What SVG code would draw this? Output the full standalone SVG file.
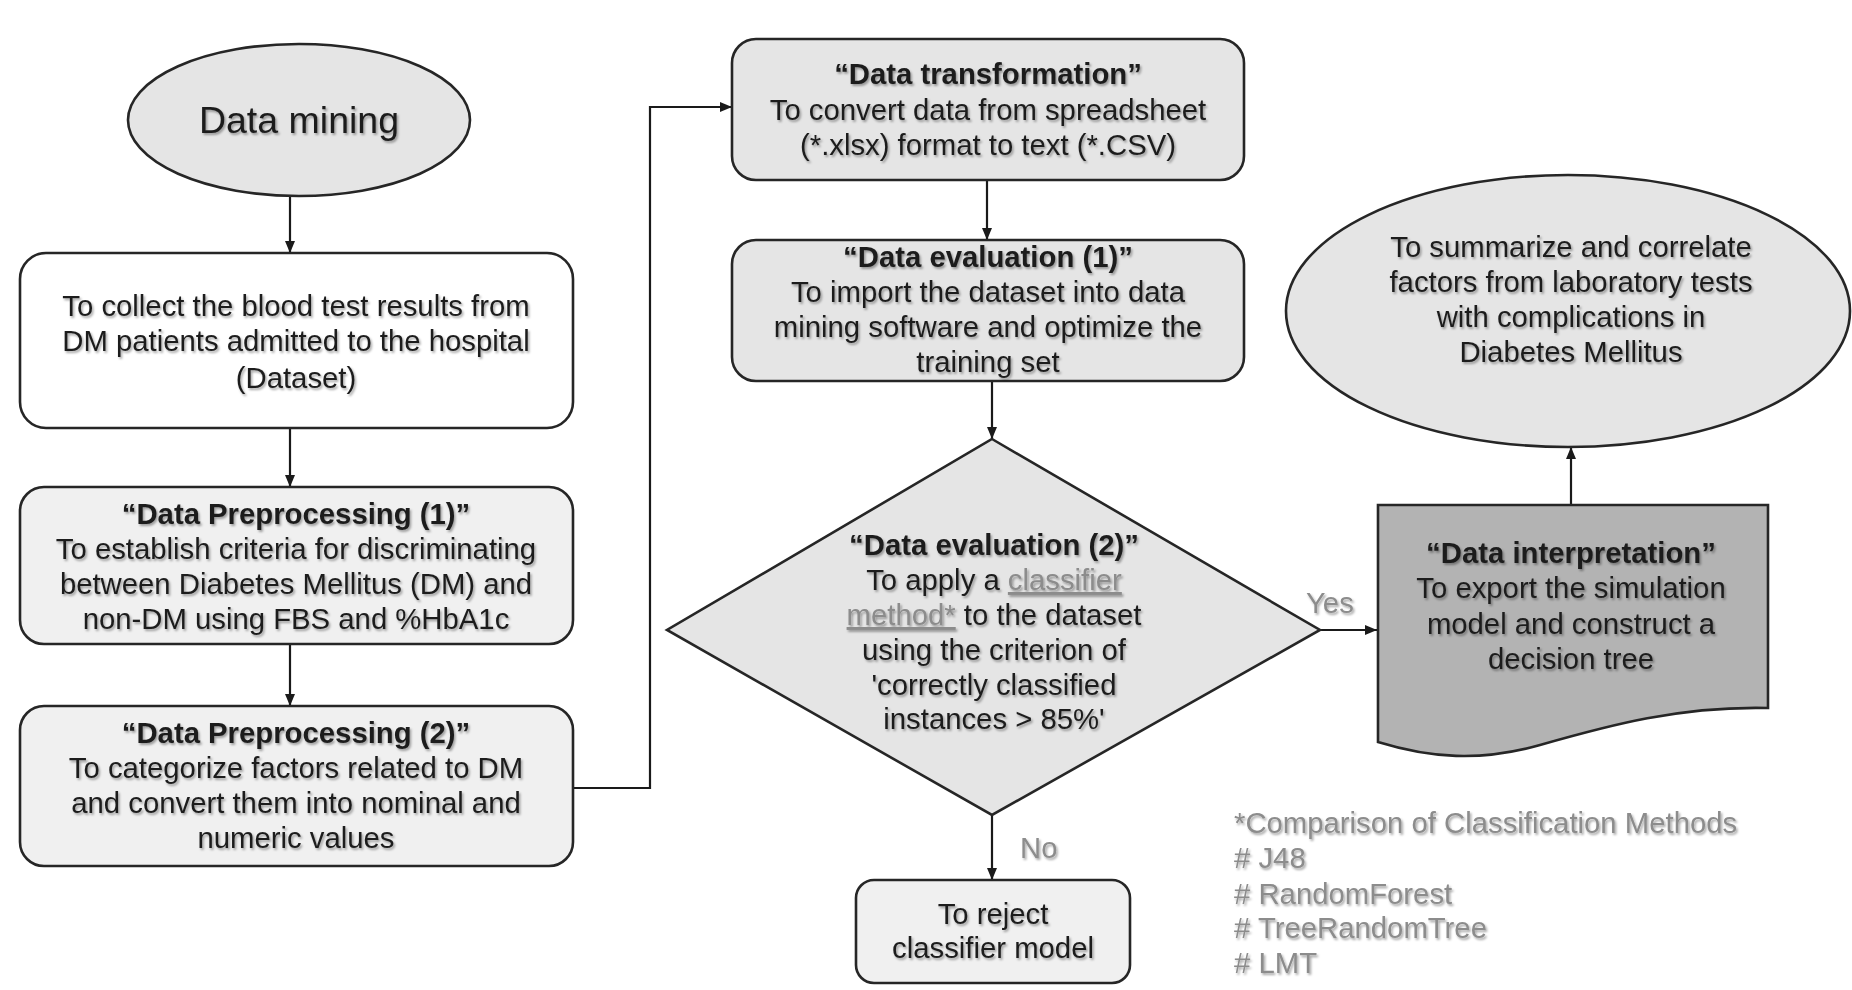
<svg xmlns="http://www.w3.org/2000/svg" width="1852" height="990" viewBox="0 0 1852 990">
  <defs>
    <marker id="arrow" viewBox="0 0 12 10" refX="12" refY="5" markerWidth="12" markerHeight="10" markerUnits="userSpaceOnUse" orient="auto">
      <path d="M0,0 L12,5 L0,10 Z" fill="#1a1a1a"/>
    </marker>
    <filter id="shadow" x="-5%" y="-20%" width="110%" height="150%">
      <feDropShadow dx="1.5" dy="2" stdDeviation="1.2" flood-color="#000" flood-opacity="0.35"/>
    </filter>
  </defs>
  <style>
    .shape { stroke: #262626; stroke-width: 2.6; }
    .white { fill: #ffffff; }
    .light { fill: #f0f0f0; }
    .mid { fill: #e5e5e5; }
    .dark { fill: #b3b3b3; }
    text { font-family: "Liberation Sans", Arial, sans-serif; font-size: 29.3px; fill: #1e1e1e; text-anchor: middle; }
    .t { filter: url(#shadow); }
    .b { font-weight: bold; }
    .big { font-size: 37.5px; }
    .link { fill: #8c8c8c; text-decoration: underline; }
    .grey { fill: #8c8c8c; text-anchor: start; }
    .conn { fill: none; stroke: #1a1a1a; stroke-width: 2.2; }
  </style>

  <rect width="1852" height="990" fill="#ffffff"/>

  <!-- connectors -->
  <g id="connectors">
    <line class="conn" x1="290" y1="196" x2="290" y2="253" marker-end="url(#arrow)"/>
    <line class="conn" x1="290" y1="428" x2="290" y2="487" marker-end="url(#arrow)"/>
    <line class="conn" x1="290" y1="644" x2="290" y2="706" marker-end="url(#arrow)"/>
    <polyline class="conn" points="573,788 650,788 650,107 732,107" marker-end="url(#arrow)"/>
    <line class="conn" x1="987" y1="180" x2="987" y2="240" marker-end="url(#arrow)"/>
    <line class="conn" x1="992" y1="381" x2="992" y2="439" marker-end="url(#arrow)"/>
    <line class="conn" x1="992" y1="815" x2="992" y2="880" marker-end="url(#arrow)"/>
    <line class="conn" x1="1320" y1="630" x2="1377" y2="630" marker-end="url(#arrow)"/>
    <line class="conn" x1="1571" y1="505" x2="1571" y2="447" marker-end="url(#arrow)"/>
    <text class="grey t" x="1306" y="613">Yes</text>
    <text class="grey t" x="1020" y="858">No</text>
  </g>

  <g id="start">
    <ellipse class="shape mid" cx="299" cy="120" rx="171" ry="76"/>
    <text class="t big" x="299" y="133">Data mining</text>
  </g>

  <g id="collect">
    <rect class="shape white" x="20" y="253" width="553" height="175" rx="26"/>
    <text class="t" x="296" y="316">To collect the blood test results from</text>
    <text class="t" x="296" y="351">DM patients admitted to the hospital</text>
    <text class="t" x="296" y="388">(Dataset)</text>
  </g>

  <g id="preprocess1">
    <rect class="shape light" x="20" y="487" width="553" height="157" rx="24"/>
    <text class="t b" x="296" y="524">“Data Preprocessing (1)”</text>
    <text class="t" x="296" y="559">To establish criteria for discriminating</text>
    <text class="t" x="296" y="594">between Diabetes Mellitus (DM) and</text>
    <text class="t" x="296" y="629">non-DM using FBS and %HbA1c</text>
  </g>

  <g id="preprocess2">
    <rect class="shape light" x="20" y="706" width="553" height="160" rx="24"/>
    <text class="t b" x="296" y="743">“Data Preprocessing (2)”</text>
    <text class="t" x="296" y="778">To categorize factors related to DM</text>
    <text class="t" x="296" y="813">and convert them into nominal and</text>
    <text class="t" x="296" y="848">numeric values</text>
  </g>

  <g id="transformation">
    <rect class="shape mid" x="732" y="39" width="512" height="141" rx="24"/>
    <text class="t b" x="988" y="84">“Data transformation”</text>
    <text class="t" x="988" y="120">To convert data from spreadsheet</text>
    <text class="t" x="988" y="155">(*.xlsx) format to text (*.CSV)</text>
  </g>

  <g id="evaluation1">
    <rect class="shape mid" x="732" y="240" width="512" height="141" rx="24"/>
    <text class="t b" x="988" y="267">“Data evaluation (1)”</text>
    <text class="t" x="988" y="302">To import the dataset into data</text>
    <text class="t" x="988" y="337">mining software and optimize the</text>
    <text class="t" x="988" y="372">training set</text>
  </g>

  <g id="evaluation2">
    <polygon class="shape mid" points="992,439 1320,630 992,815 667,630"/>
    <text class="t b" x="994" y="555">“Data evaluation (2)”</text>
    <text class="t" x="994" y="590">To apply a <tspan class="link">classifier</tspan></text>
    <text class="t" x="994" y="625"><tspan class="link">method*</tspan> to the dataset</text>
    <text class="t" x="994" y="660">using the criterion of</text>
    <text class="t" x="994" y="695">'correctly classified</text>
    <text class="t" x="994" y="729">instances &gt; 85%'</text>
  </g>

  <g id="reject">
    <rect class="shape light" x="856" y="880" width="274" height="103" rx="18"/>
    <text class="t" x="993" y="924">To reject</text>
    <text class="t" x="993" y="958">classifier model</text>
  </g>

  <g id="interpretation">
    <path class="shape dark" d="M1378,505 L1768,505 L1768,708 C1680,706 1610,725 1540,745 C1480,762 1430,758 1378,742 Z"/>
    <text class="t b" x="1571" y="563">“Data interpretation”</text>
    <text class="t" x="1571" y="598">To export the simulation</text>
    <text class="t" x="1571" y="634">model and construct a</text>
    <text class="t" x="1571" y="669">decision tree</text>
  </g>

  <g id="summary">
    <ellipse class="shape mid" cx="1568" cy="311" rx="282" ry="136"/>
    <text class="t" x="1571" y="257">To summarize and correlate</text>
    <text class="t" x="1571" y="292">factors from laboratory tests</text>
    <text class="t" x="1571" y="327">with complications in</text>
    <text class="t" x="1571" y="362">Diabetes Mellitus</text>
  </g>

  <g id="legend">
    <text class="grey t" x="1234" y="833">*Comparison of Classification Methods</text>
    <text class="grey t" x="1234" y="868"># J48</text>
    <text class="grey t" x="1234" y="904"># RandomForest</text>
    <text class="grey t" x="1234" y="938"># TreeRandomTree</text>
    <text class="grey t" x="1234" y="973"># LMT</text>
  </g>
</svg>
